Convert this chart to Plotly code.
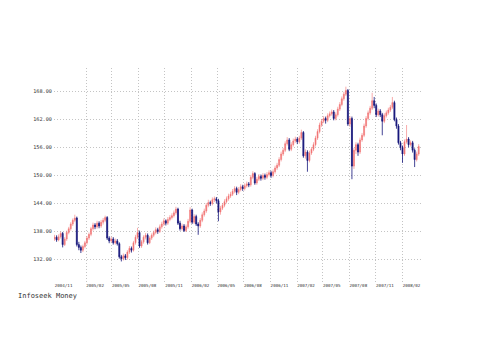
import pandas as pd
import plotly.graph_objects as go

open_ = [136.4, 136.8, 136.2, 136.9, 137.6, 135.2, 136.4, 137.8, 138.6, 139.6,
         140.4, 140.9, 135.2, 134.6, 134.0, 134.8, 135.6, 136.6, 137.4, 138.6,
         139.4, 139.0, 139.8, 139.2, 140.0, 140.4, 141.0, 136.6, 136.0, 136.4,
         135.6, 136.0, 135.4, 132.6, 132.2, 132.8, 132.4, 133.6, 134.4, 134.0,
         135.6, 136.8, 137.8, 134.9, 135.8, 136.8, 137.2, 135.6, 136.6, 137.2,
         137.8, 138.4, 138.0, 139.0, 139.6, 140.3, 139.8, 140.6, 141.0, 141.4,
         142.0, 142.8, 139.8, 138.6, 139.2, 138.2, 139.0, 140.2, 142.6, 140.0,
         141.2, 139.6, 139.2, 140.4, 141.6, 142.4, 143.6, 144.2, 144.0, 144.8,
         145.0, 144.6, 142.2, 143.0, 143.6, 144.4, 145.0, 145.6, 146.0, 146.6,
         147.2, 146.4, 147.0, 147.6, 147.2, 147.8, 148.2, 148.0, 149.6, 150.4,
         148.4, 149.2, 149.8, 149.4, 150.0, 149.6, 150.2, 150.6, 150.0, 150.8,
         151.6, 152.2, 153.4, 154.6, 155.4, 156.8, 157.6, 155.6, 156.6, 157.4,
         157.8, 157.2, 158.0, 159.2, 154.2, 155.0, 153.2, 154.8, 155.6, 156.6,
         158.0, 159.4, 160.8, 161.6, 162.2, 161.8, 162.8, 163.2, 163.6, 162.2,
         163.0, 164.2, 165.2, 166.4, 167.4, 168.2, 161.0, 162.2, 152.0, 155.4,
         156.6, 155.0, 157.6, 158.6, 160.6, 162.2, 163.4, 164.4, 166.0, 165.0,
         163.0, 163.8, 163.0, 161.6, 162.8, 163.4, 164.0, 164.6, 165.6, 162.0,
         160.6, 157.0, 156.0, 154.6, 157.2, 157.8, 156.6, 157.0, 155.4, 153.4,
         154.6]

high = [137.3, 137.2, 137.4, 138.0, 137.9, 136.8, 138.2, 139.0, 140.0, 140.8,
        141.6, 141.2, 135.8, 135.0, 135.2, 136.0, 137.0, 137.8, 139.0, 139.9,
        139.8, 140.3, 140.2, 140.5, 140.9, 141.4, 141.3, 137.0, 136.9, 136.8,
        136.5, 136.4, 135.7, 133.0, 133.3, 133.2, 134.0, 134.9, 134.8, 136.0,
        137.3, 138.8, 138.2, 136.2, 137.2, 137.7, 137.6, 137.0, 137.6, 138.2,
        138.9, 138.8, 139.5, 140.1, 140.8, 140.6, 141.1, 141.5, 141.9, 142.5,
        143.3, 143.1, 140.3, 139.7, 139.6, 139.5, 140.7, 143.2, 142.9, 141.7,
        141.6, 140.0, 140.9, 142.1, 142.9, 144.1, 144.8, 144.6, 145.3, 145.5,
        145.4, 145.0, 143.5, 144.1, 144.9, 145.5, 146.1, 146.5, 147.1, 147.7,
        147.6, 147.5, 148.1, 148.0, 148.3, 148.7, 148.6, 150.1, 150.9, 150.7,
        149.7, 150.3, 150.2, 150.5, 150.4, 150.7, 151.1, 151.0, 151.3, 152.1,
        152.7, 153.9, 155.1, 155.9, 157.3, 158.2, 158.0, 157.1, 157.9, 158.3,
        158.2, 158.5, 159.8, 159.5, 155.6, 155.4, 155.3, 156.1, 157.1, 158.5,
        159.9, 161.3, 162.1, 162.7, 162.6, 163.3, 163.7, 164.1, 164.0, 163.5,
        164.7, 165.7, 166.9, 167.9, 169.0, 168.5, 162.7, 162.6, 155.9, 157.1,
        157.0, 158.1, 159.1, 161.1, 162.7, 163.9, 164.9, 167.7, 166.8, 165.4,
        164.3, 164.2, 163.4, 163.3, 163.9, 164.5, 165.1, 166.8, 166.0, 162.4,
        161.0, 157.4, 156.4, 157.7, 160.8, 158.2, 157.5, 157.4, 155.8, 155.1,
        156.7]

low = [136.0, 135.8, 135.9, 136.5, 134.6, 134.9, 136.0, 137.4, 138.2, 139.2,
       140.0, 134.8, 134.0, 133.4, 133.6, 134.4, 135.2, 136.2, 137.0, 138.2,
       138.5, 138.6, 138.7, 138.8, 139.5, 140.0, 136.2, 135.5, 135.6, 135.2,
       135.2, 135.0, 132.2, 131.6, 131.8, 131.9, 132.0, 133.2, 133.5, 133.7,
       135.2, 136.4, 134.5, 134.5, 135.4, 136.3, 135.2, 135.3, 136.2, 136.8,
       137.4, 137.5, 137.7, 138.6, 139.2, 139.3, 139.4, 140.2, 140.6, 141.0,
       141.6, 139.4, 138.2, 138.2, 137.9, 137.9, 138.6, 139.8, 139.6, 139.6,
       139.2, 137.3, 138.8, 140.0, 141.2, 142.0, 143.2, 143.5, 143.6, 144.3,
       144.0, 140.2, 141.6, 142.6, 143.2, 144.0, 144.6, 145.2, 145.6, 146.2,
       145.8, 146.0, 146.6, 146.7, 146.8, 147.4, 147.5, 147.6, 149.2, 148.0,
       148.0, 148.8, 148.9, 149.0, 149.1, 149.2, 149.8, 149.5, 149.6, 150.4,
       151.2, 151.8, 153.0, 154.2, 155.0, 156.4, 155.2, 155.2, 156.2, 157.0,
       156.7, 156.8, 157.6, 153.8, 153.6, 150.8, 152.8, 154.4, 155.2, 156.2,
       157.6, 159.0, 160.4, 161.2, 161.1, 161.4, 162.4, 162.8, 161.8, 161.8,
       162.6, 163.8, 164.8, 166.0, 167.0, 160.6, 160.4, 149.2, 151.4, 154.6,
       154.2, 154.6, 157.2, 158.2, 160.2, 161.8, 163.0, 164.0, 164.4, 162.5,
       162.6, 162.5, 158.6, 161.2, 162.4, 163.0, 163.6, 164.2, 161.6, 160.0,
       156.6, 155.4, 152.7, 154.2, 156.8, 156.0, 156.2, 154.9, 151.8, 153.0,
       154.2]

close = [136.8, 136.2, 136.9, 137.6, 135.2, 136.4, 137.8, 138.6, 139.6, 140.4,
         140.9, 135.2, 134.6, 134.0, 134.8, 135.6, 136.6, 137.4, 138.6, 139.4,
         139.0, 139.8, 139.2, 140.0, 140.4, 141.0, 136.6, 136.0, 136.4, 135.6,
         136.0, 135.4, 132.6, 132.2, 132.8, 132.4, 133.6, 134.4, 134.0, 135.6,
         136.8, 137.8, 134.9, 135.8, 136.8, 137.2, 135.6, 136.6, 137.2, 137.8,
         138.4, 138.0, 139.0, 139.6, 140.3, 139.8, 140.6, 141.0, 141.4, 142.0,
         142.8, 139.8, 138.6, 139.2, 138.2, 139.0, 140.2, 142.6, 140.0, 141.2,
         139.6, 139.2, 140.4, 141.6, 142.4, 143.6, 144.2, 144.0, 144.8, 145.0,
         144.6, 142.2, 143.0, 143.6, 144.4, 145.0, 145.6, 146.0, 146.6, 147.2,
         146.4, 147.0, 147.6, 147.2, 147.8, 148.2, 148.0, 149.6, 150.4, 148.4,
         149.2, 149.8, 149.4, 150.0, 149.6, 150.2, 150.6, 150.0, 150.8, 151.6,
         152.2, 153.4, 154.6, 155.4, 156.8, 157.6, 155.6, 156.6, 157.4, 157.8,
         157.2, 158.0, 159.2, 154.2, 155.0, 153.2, 154.8, 155.6, 156.6, 158.0,
         159.4, 160.8, 161.6, 162.2, 161.8, 162.8, 163.2, 163.6, 162.2, 163.0,
         164.2, 165.2, 166.4, 167.4, 168.2, 161.0, 162.2, 152.0, 155.4, 156.6,
         155.0, 157.6, 158.6, 160.6, 162.2, 163.4, 164.4, 166.0, 165.0, 163.0,
         163.8, 163.0, 161.6, 162.8, 163.4, 164.0, 164.6, 165.6, 162.0, 160.6,
         157.0, 156.0, 154.6, 157.2, 157.8, 156.6, 157.0, 155.4, 153.4, 154.6,
         156.2]

start_date = "2004-10-15"
dates = pd.date_range(start=start_date, periods=len(close), freq="7D")

x_tick_vals = ["2004-10-15", "2005-02-01", "2005-05-01", "2005-08-01", "2005-11-01",
               "2006-02-01", "2006-05-01", "2006-08-01", "2006-11-01", "2007-02-01",
               "2007-05-01", "2007-08-01", "2007-11-01", "2008-02-01"]
x_tick_text = ["2004/11", "2005/02", "2005/05", "2005/08", "2005/11", "2006/02",
               "2006/05", "2006/08", "2006/11", "2007/02", "2007/05", "2007/08",
               "2007/11", "2008/02"]
y_tick_vals = [132, 138, 144, 150, 156, 162, 168]
y_tick_text = ["132.00", "138.00", "144.00", "150.00", "156.00", "162.00", "168.00"]

fig = go.Figure(go.Candlestick(
    x=dates, open=open_, high=high, low=low, close=close,
    increasing=dict(line=dict(color="#f27474", width=0.6), fillcolor="#f27474"),
    decreasing=dict(line=dict(color="#14147a", width=0.8), fillcolor="#14147a"),
    whiskerwidth=0, showlegend=False, hoverinfo="x+y",
))

grid = dict(showgrid=True, gridcolor="#c4c4c4", griddash="1px,2px", gridwidth=1,
            zeroline=False, showline=False, ticks="", automargin=False)

fig.update_layout(
    width=472, height=352,
    margin=dict(l=46, r=59, t=60, b=78, autoexpand=False),
    paper_bgcolor="white", plot_bgcolor="white",
    font=dict(family="DejaVu Sans Mono", color="#333333"),
    xaxis=dict(**grid, type="date", range=["2004-10-13", "2008-04-05"],
               tickmode="array", tickvals=x_tick_vals, ticktext=x_tick_text,
               tickfont=dict(size=4.2), ticklabelshift=9, ticklabelstandoff=0,
               rangeslider=dict(visible=False), fixedrange=True),
    yaxis=dict(**grid, range=[127.2, 173.0], tickmode="array",
               tickvals=y_tick_vals, ticktext=y_tick_text,
               tickfont=dict(size=5.2), ticklabelstandoff=1),
    annotations=[dict(text="Infoseek Money", xref="paper", yref="paper",
                      x=-0.1035, y=-0.066, xanchor="left", yanchor="middle",
                      showarrow=False, font=dict(size=7, color="#333333",
                                                 family="DejaVu Sans Mono"))],
)

fig.write_html("out.html")
